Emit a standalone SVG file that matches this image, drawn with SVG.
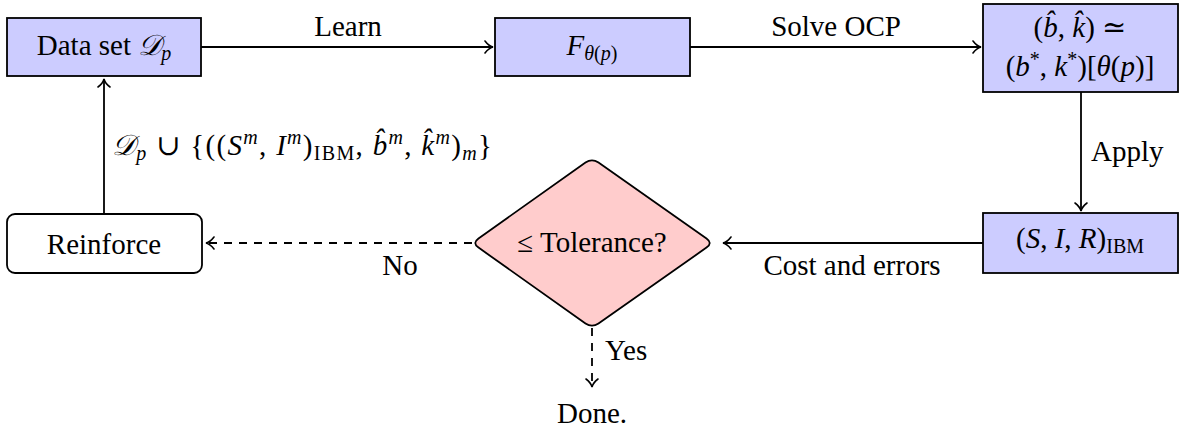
<svg xmlns="http://www.w3.org/2000/svg" width="1180" height="432" viewBox="0 0 1180 432">
<style>
  text { font-family: "Liberation Serif", "DejaVu Serif", serif; font-size: 29px; fill: #000; }
  .it { font-style: italic; }
  .sub { font-size: 20px; }
  .wide { letter-spacing: 1.3px; }
  .box { fill: #ccccff; stroke: #000; stroke-width: 1.8; }
  .rbox { fill: #fff; stroke: #000; stroke-width: 1.8; }
  .dia { fill: #ffcccc; stroke: #000; stroke-width: 1.8; }
  .edge { fill: none; stroke: #000; stroke-width: 1.8; marker-end: url(#arr); }
  .dash { stroke-dasharray: 8 7; }
</style>
<defs>
  <marker id="arr" markerUnits="userSpaceOnUse" markerWidth="20" markerHeight="20" refX="0" refY="0" orient="auto" overflow="visible">
    <path d="M -8,-6 C -5,-2 -2,-0.5 0,0 C -2,0.5 -5,2 -8,6" fill="none" stroke="#000" stroke-width="1.6" stroke-linecap="round"/>
  </marker>
</defs>

<g id="connectors">
  <line class="edge" x1="201" y1="47" x2="493" y2="47"/>
  <text x="348" y="36" text-anchor="middle">Learn</text>
  <line class="edge" x1="690" y1="47" x2="981" y2="47"/>
  <text x="836" y="36" text-anchor="middle">Solve OCP</text>
  <line class="edge" x1="1081" y1="92" x2="1081" y2="211"/>
  <text x="1091" y="161">Apply</text>
  <line class="edge" x1="983" y1="243" x2="723" y2="243"/>
  <text x="852" y="275" text-anchor="middle">Cost and errors</text>
  <line class="edge dash" x1="472" y1="243" x2="206" y2="243"/>
  <text x="400" y="275" text-anchor="middle">No</text>
  <line class="edge" x1="104" y1="214" x2="104" y2="79"/>
  <text class="wide" x="112" y="155"><tspan class="it">𝒟</tspan><tspan class="it sub" dy="5">p</tspan><tspan dy="-5"> ∪ {((</tspan><tspan class="it">S</tspan><tspan class="it sub" dy="-11">m</tspan><tspan dy="11">, </tspan><tspan class="it">I</tspan><tspan class="it sub" dy="-11">m</tspan><tspan dy="11">)</tspan><tspan class="sub" dy="5">IBM</tspan><tspan dy="-5">, </tspan><tspan class="it">b̂</tspan><tspan class="it sub" dy="-11">m</tspan><tspan dy="11">, </tspan><tspan class="it">k̂</tspan><tspan class="it sub" dy="-11">m</tspan><tspan dy="11">)</tspan><tspan class="it sub" dy="5">m</tspan><tspan dy="-5">}</tspan></text>
  <line class="edge dash" x1="592" y1="328" x2="592" y2="387"/>
  <text x="605" y="360">Yes</text>
</g>

<g id="node-dataset">
  <rect class="box" x="7" y="18" width="194" height="58"/>
  <text x="104" y="55" text-anchor="middle">Data set <tspan class="it">𝒟</tspan><tspan class="it sub" dy="5">p</tspan></text>
</g>

<g id="node-F">
  <rect class="box" x="495" y="18" width="195" height="58"/>
  <text x="592" y="55" text-anchor="middle"><tspan class="it">F</tspan><tspan class="sub" dy="5"><tspan class="it">θ</tspan>(<tspan class="it">p</tspan>)</tspan></text>
</g>

<g id="node-bk">
  <rect class="box" x="983" y="4" width="195" height="88"/>
  <text x="1080" y="37" text-anchor="middle">(<tspan class="it">b̂</tspan>, <tspan class="it">k̂</tspan>)  ≃</text>
  <text x="1080" y="76" text-anchor="middle">(<tspan class="it">b</tspan><tspan class="sub" dy="-10">*</tspan><tspan dy="10">, </tspan><tspan class="it">k</tspan><tspan class="sub" dy="-10">*</tspan><tspan dy="10">)[</tspan><tspan class="it">θ</tspan>(<tspan class="it">p</tspan>)]</text>
</g>

<g id="node-SIR">
  <rect class="box" x="983" y="213" width="195" height="60"/>
  <text x="1080" y="248" text-anchor="middle">(<tspan class="it">S</tspan>, <tspan class="it">I</tspan>, <tspan class="it">R</tspan>)<tspan class="sub" dy="5">IBM</tspan></text>
</g>

<g id="node-tolerance">
  <path class="dia" d="M478.5,238.4 L585.5,162.6 Q592,158 598.5,162.6 L706.5,238.4 Q713,243 706.5,247.6 L598.5,323.4 Q592,328 585.5,323.4 L478.5,247.6 Q472,243 478.5,238.4 Z"/>
  <text x="592" y="252" text-anchor="middle">≤ Tolerance?</text>
</g>

<g id="node-reinforce">
  <rect class="rbox" x="7" y="214" width="195" height="59" rx="8" ry="8"/>
  <text x="104" y="254" text-anchor="middle">Reinforce</text>
</g>

<g id="node-done">
  <text x="592" y="423" text-anchor="middle">Done.</text>
</g>
</svg>
